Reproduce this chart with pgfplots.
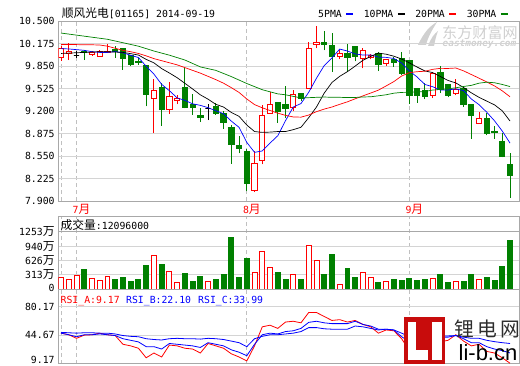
\documentclass[border=0pt]{standalone}
\usepackage{fontspec}
\usepackage{pgfplots}
\usepackage{pgfplotstable}
\pgfplotsset{compat=1.18}
\setmainfont{DejaVu Sans Mono}
\newfontfamily\cjk{Noto Sans CJK SC}[Scale=1.2]
\newfontfamily\lsans{Liberation Sans}
\definecolor{kred}{RGB}{255,0,0}
\definecolor{kgreen}{RGB}{0,128,0}
\definecolor{kblue}{RGB}{0,0,255}
\definecolor{gridc}{RGB}{212,212,212}
\definecolor{borderc}{RGB}{168,168,168}
\definecolor{dashc}{RGB}{192,192,192}
\definecolor{wm}{RGB}{208,208,208}
\definecolor{logored}{RGB}{200,12,12}
\definecolor{logotext}{RGB}{45,45,45}
\newcommand\tf{\fontsize{9.8}{11}\selectfont}

\pgfplotstableread{
i O H L C V
0 9.97 10.14 9.93 10.11 256
1 10.04 10.19 9.94 10.07 212
2 10.00 10.07 9.97 10.00 300
3 10.06 10.08 9.94 10.05 437
4 10.02 10.07 10.00 10.05 234
5 9.99 10.09 9.99 10.07 197
6 10.05 10.17 10.04 10.07 278
7 10.09 10.14 9.97 10.07 219
8 10.10 10.10 9.80 9.96 262
9 10.01 10.01 9.85 9.87 175
10 9.92 9.97 9.87 9.91 219
11 9.86 9.86 9.27 9.44 525
12 9.38 9.67 8.89 9.50 737
13 9.54 9.61 8.99 9.22 547
14 9.23 9.62 9.16 9.41 387
15 9.36 9.43 9.30 9.39 153
16 9.54 9.82 9.24 9.26 350
17 9.29 9.45 9.15 9.25 175
18 9.14 9.25 9.04 9.11 284
19 9.24 9.30 9.07 9.24 175
20 9.27 9.32 9.15 9.17 219
21 9.16 9.20 8.94 9.04 328
22 8.97 9.00 8.44 8.72 1122
23 8.71 8.84 8.59 8.66 262
24 8.62 8.65 8.04 8.15 678
25 8.05 8.62 8.03 8.45 372
26 8.49 9.29 8.43 9.14 816
27 9.17 9.48 9.16 9.29 475
28 9.33 9.33 9.03 9.19 372
29 9.29 9.56 9.10 9.24 219
30 9.25 9.51 9.20 9.44 321
31 9.45 9.46 9.34 9.39 219
32 9.53 10.20 9.53 10.11 956
33 10.16 10.43 10.11 10.20 627
34 10.20 10.36 10.08 10.16 328
35 10.15 10.33 9.77 9.99 765
36 9.99 10.09 9.95 10.03 103
37 10.03 10.17 9.77 9.97 459
38 10.14 10.14 9.92 9.99 262
39 9.96 10.12 9.82 10.08 365
40 9.98 10.03 9.95 10.00 256
41 10.03 10.06 9.78 9.87 153
42 9.89 9.95 9.85 9.95 175
43 9.95 9.98 9.84 9.91 219
44 9.96 10.06 9.73 9.75 197
45 9.93 9.93 9.30 9.43 241
46 9.53 9.53 9.32 9.43 197
47 9.50 9.61 9.37 9.41 219
48 9.43 9.77 9.39 9.75 234
49 9.76 9.85 9.46 9.51 328
50 9.58 9.58 9.40 9.43 153
51 9.46 9.66 9.43 9.51 175
52 9.53 9.56 9.26 9.29 175
53 9.30 9.30 8.80 9.14 328
54 9.02 9.19 9.02 9.10 212
55 9.09 9.18 8.85 8.88 262
56 8.91 8.98 8.80 8.89 197
57 8.76 8.89 8.53 8.55 503
58 8.43 8.60 7.95 8.27 1072
}\kdata

\pgfplotstableread{
i m5 m10 m20 m30
0 10.105 10.035 10.165 10.33
1 10.10 10.04 10.165 10.315
2 10.09 10.045 10.163 10.30
3 10.08 10.05 10.16 10.285
4 10.06 10.055 10.16 10.27
5 10.05 10.06 10.157 10.255
6 10.05 10.06 10.14 10.24
7 10.062 10.055 10.11 10.215
8 10.044 10.05 10.08 10.19
9 10.008 10.032 10.06 10.165
10 9.976 10.012 10.035 10.14
11 9.85 9.949 10.00 10.105
12 9.736 9.899 9.96 10.07
13 9.588 9.816 9.93 10.04
14 9.496 9.752 9.90 10.01
15 9.392 9.684 9.87 9.975
16 9.356 9.603 9.83 9.94
17 9.306 9.521 9.79 9.89
18 9.284 9.436 9.75 9.84
19 9.25 9.373 9.703 9.815
20 9.206 9.299 9.656 9.79
21 9.162 9.259 9.604 9.745
22 9.056 9.181 9.54 9.70
23 8.966 9.125 9.471 9.65
24 8.748 8.999 9.376 9.60
25 8.604 8.905 9.295 9.555
26 8.624 8.893 9.248 9.51
27 8.738 8.897 9.209 9.48
28 8.844 8.905 9.171 9.45
29 9.062 8.905 9.139 9.437
30 9.26 8.932 9.116 9.414
31 9.31 8.967 9.113 9.392
32 9.474 9.106 9.144 9.395
33 9.676 9.26 9.193 9.40
34 9.86 9.461 9.23 9.404
35 9.97 9.615 9.26 9.401
36 10.098 9.704 9.299 9.40
37 10.07 9.772 9.335 9.397
38 10.028 9.852 9.379 9.398
39 10.012 9.936 9.421 9.405
40 10.014 9.992 9.462 9.408
41 9.982 10.04 9.504 9.422
42 9.978 10.024 9.565 9.437
43 9.962 9.995 9.628 9.46
44 9.896 9.954 9.708 9.471
45 9.782 9.898 9.757 9.473
46 9.694 9.838 9.771 9.478
47 9.586 9.782 9.777 9.484
48 9.554 9.758 9.805 9.505
49 9.506 9.701 9.819 9.514
50 9.506 9.644 9.818 9.523
51 9.522 9.608 9.824 9.538
52 9.498 9.542 9.783 9.557
53 9.376 9.465 9.73 9.573
54 9.294 9.40 9.677 9.605
55 9.184 9.345 9.622 9.619
56 9.06 9.291 9.565 9.611
57 8.912 9.205 9.494 9.586
58 8.738 9.057 9.408 9.556
}\madata

\pgfplotstableread{
i A B C
0 47 47 48
1 45 45 47.5
2 40.5 42.5 47
3 44.5 45 47.5
4 45 45 47.5
5 47 46 47
6 45 45 47
7 44 44 46
8 33 40 44
9 31 38 43
10 28 36 42.5
11 16 30 40
12 22 30 39
13 17 27 38.4
14 32 34 40
15 31 33 40.5
16 28 32 40
17 27 31 40
18 22 29 39.5
19 34 35 40.5
20 31 33 40
21 28 31 39
22 21 26 37
23 17 23 35
24 12 18.6 30
25 31 33 40
26 55 45 43
27 57 47 45
28 53 46 45
29 61 49 46
30 62 50 47
31 60 53 49
32 73 60.6 54
33 73 62 54
34 68 60 52.5
35 63 59 52
36 64 59 52
37 61 59 52
38 63 62 56
39 58 58 55
40 55 56 53
41 47 52 51
42 51 52 52
43 50 51 51
44 40 42.5 47
45 25 36.3 42.5
46 25 37 42.5
47 26 37 42.5
48 45 45 45
49 36 42 43.5
50 38 42 43.5
51 45 44 44
52 37 40 42
53 31 35 40.5
54 33 35 40.5
55 24 30 38
56 22 27 36.3
57 16 25 35
58 9.17 22.1 34
}\rsidata

\newcommand\drawcandles{%
  \pgfplotsforeachungrouped \rr in {0,...,58}{%
    \pgfplotstablegetelem{\rr}{O}\of\kdata \let\vO\pgfplotsretval
    \pgfplotstablegetelem{\rr}{H}\of\kdata \let\vH\pgfplotsretval
    \pgfplotstablegetelem{\rr}{L}\of\kdata \let\vL\pgfplotsretval
    \pgfplotstablegetelem{\rr}{C}\of\kdata \let\vC\pgfplotsretval
    \pgfmathsetmacro\xl{\rr-0.34}%
    \pgfmathsetmacro\xr{\rr+0.34}%
    \pgfmathtruncatemacro\dir{\vC>\vO ? 1 : (\vC<\vO ? 2 : 0)}%
    \ifcase\dir \def\cc{black}\def\ff{black}\or \def\cc{kred}\def\ff{white}\or \def\cc{kgreen}\def\ff{kgreen}\fi
    \edef\tmp{\noexpand\addplot[draw=\cc, line width=0.9pt, forget plot] coordinates {(\rr,\vL) (\rr,\vH)};
      \noexpand\addplot[draw=\cc, fill=\ff, line width=0.9pt, forget plot] coordinates {(\xl,\vO) (\xr,\vO) (\xr,\vC) (\xl,\vC)} -- cycle;}%
    \tmp
  }%
}

\newcommand\drawvolume{%
  \pgfplotsforeachungrouped \rr in {0,...,58}{%
    \pgfplotstablegetelem{\rr}{O}\of\kdata \let\vO\pgfplotsretval
    \pgfplotstablegetelem{\rr}{C}\of\kdata \let\vC\pgfplotsretval
    \pgfplotstablegetelem{\rr}{V}\of\kdata \let\vV\pgfplotsretval
    \pgfmathsetmacro\xl{\rr-0.32}%
    \pgfmathsetmacro\xr{\rr+0.32}%
    \pgfmathtruncatemacro\dir{\vC<\vO ? 2 : 1}%
    \ifcase\dir \or \def\cc{kred}\def\ff{white}\or \def\cc{kgreen}\def\ff{kgreen}\fi
    \edef\tmp{\noexpand\addplot[draw=\cc, fill=\ff, line width=0.9pt, forget plot] coordinates {(\xl,0) (\xr,0) (\xr,\vV) (\xl,\vV)} -- cycle;}%
    \tmp
  }%
}

\pgfplotsset{
  panel/.style={
    scale only axis, width=461pt, xmin=-0.35, xmax=59.2,
    anchor=south west,
    axis line style={draw=borderc, line width=1pt},
    major tick length=0pt,
    xtick={0,2,24,45},
    xmajorgrids, ymajorgrids,
    x grid style={dashc, dash pattern=on 4pt off 3pt, line width=0.8pt},
    y grid style={gridc, line width=0.8pt},
    tick label style={font=\tf, inner sep=0pt},
    yticklabel style={anchor=east, xshift=-3.5pt},
  }
}

\begin{document}
\begin{tikzpicture}[font=\tf]
\useasboundingbox (0,0) rectangle (520pt,365pt);

% watermark top right
\fill[wm] (418pt,320pt) .. controls (424pt,333pt) and (430pt,339pt) .. (437pt,343pt)
  .. controls (432pt,335pt) and (428pt,328pt) .. (426pt,320pt) -- cycle;
\fill[wm] (428pt,319pt) .. controls (431pt,327pt) and (434pt,331pt) .. (438pt,334pt)
  .. controls (436pt,329pt) and (435pt,324pt) .. (434pt,319pt) -- cycle;
\node[wm, inner sep=0pt, font={\cjk\fontsize{12.6}{14}\selectfont}] at (480pt,332.5pt) {东方财富网};
\node[wm, inner sep=0pt, font={\fontsize{9.4}{10}\selectfont\bfseries\itshape}] at (479.5pt,321pt) {eastmoney.com};

% main price panel
\begin{axis}[panel, at={(58.3pt,164pt)}, height=179.7pt,
  ymin=7.9, ymax=10.5,
  ytick={7.9,8.225,8.55,8.875,9.2,9.525,9.85,10.175,10.5},
  yticklabels={7.900,8.225,8.550,8.875,9.200,9.525,9.850,10.175,10.500},
  xticklabels={,7{\cjk 月},8{\cjk 月},9{\cjk 月}},
  xticklabel style={kred, anchor=north west, xshift=-4pt, yshift=-3.3pt},
  legend plot pos=right,
  legend columns=4,
  legend image code/.code={\draw[#1, line width=2pt] (0pt,0pt) -- (7pt,0pt);},
  legend style={at={(axis description cs:0.9777,1.0395)}, anchor=east, draw=none, fill=none,
    inner sep=0pt, font=\tf, nodes={inner sep=0pt},
    /tikz/every odd column/.append style={column sep=3.5pt},
    /tikz/every even column/.append style={column sep=9.5pt}},
]
\drawcandles
\addplot[kblue, line width=0.7pt] table[x=i, y=m5]{\madata}; \addlegendentry{5PMA}
\addplot[black, line width=0.7pt] table[x=i, y=m10]{\madata}; \addlegendentry{10PMA}
\addplot[kred, line width=0.7pt] table[x=i, y=m20]{\madata}; \addlegendentry{20PMA}
\addplot[kgreen, line width=0.7pt] table[x=i, y=m30]{\madata}; \addlegendentry{30PMA}
\end{axis}

% volume panel
\begin{axis}[panel, at={(58.3pt,76pt)}, height=73pt,
  ymin=0, ymax=1596,
  ytick={0,313,626,940},
  yticklabels={\raisebox{2pt}{0},313{\cjk 万},626{\cjk 万},940{\cjk 万}},
  extra y ticks={1253},
  extra y tick labels={1253{\cjk 万}},
  extra y tick style={y grid style={borderc, solid, line width=1pt}},
  xticklabels={},
]
\drawvolume
\end{axis}

% RSI panel
\begin{axis}[panel, at={(58.3pt,1.2pt)}, height=74.8pt,
  ymin=8.41, ymax=102.6,
  ytick={9.17,44.67,80.17},
  yticklabels={\raisebox{7pt}{9.17},44.67,80.17},
  xticklabels={},
]
\addplot[kred, line width=0.8pt] table[x=i, y=A]{\rsidata};
\addplot[kblue, line width=0.8pt] table[x=i, y=B]{\rsidata};
\addplot[kblue, line width=0.8pt] table[x=i, y=C]{\rsidata};
\end{axis}

% titles
\node[anchor=base west, inner sep=0pt] at (61.7pt,347.5pt) {{\cjk 顺风光电}[01165] 2014-09-19};
\node[anchor=base west, inner sep=0pt] at (60.5pt,135.5pt) {{\cjk 成交量}:12096000};
\node[anchor=base west, inner sep=0pt, kred] at (60.5pt,61.5pt) {RSI\_A:9.17};
\node[anchor=base west, inner sep=0pt, kblue] at (126pt,61.5pt) {RSI\_B:22.10};
\node[anchor=base west, inner sep=0pt, kblue] at (198pt,61.5pt) {RSI\_C:33.99};

% li-b.cn logo
\fill[logored] (404pt,1pt) rectangle (445pt,48pt);
\fill[white] (408pt,5pt) rectangle (416pt,43.5pt);
\fill[white] (408pt,5pt) rectangle (428pt,15pt);
\fill[white] (431.5pt,5pt) rectangle (441.5pt,43.5pt);
\node[logotext, inner sep=0pt, font={\cjk\fontsize{16.5}{18}\selectfont}] at (487.5pt,36.5pt) {锂\,电\,网};
\node[black, inner sep=0pt, font={\lsans\fontsize{22}{22}\selectfont}] at (488pt,12pt) {li-b.cn};
\end{tikzpicture}
\end{document}
